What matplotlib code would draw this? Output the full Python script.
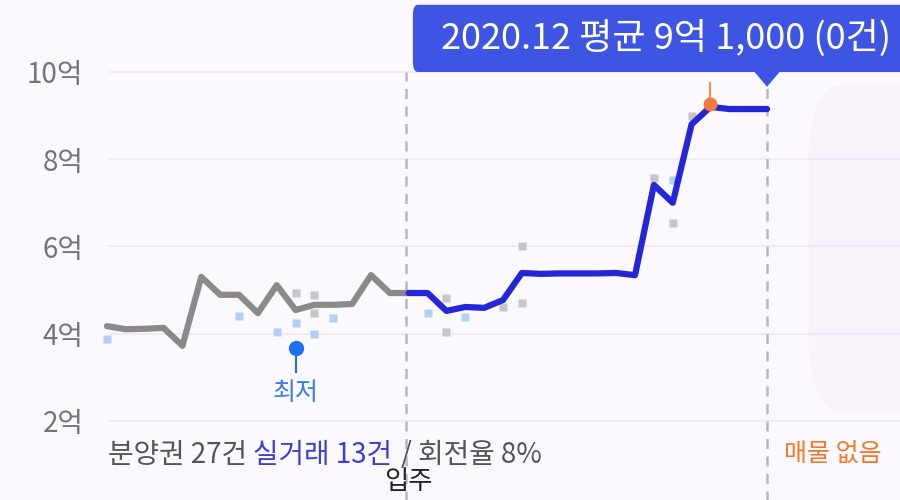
import matplotlib.pyplot as plt
from matplotlib.patches import FancyBboxPatch, Polygon

plt.rcParams['font.family'] = ['Noto Sans CJK KR', 'DejaVu Sans']

# monthly average price (억), month index 0..35, 입주 at month 16
gray_months = list(range(0, 17))
gray_vals = [4.17, 4.10, 4.11, 4.13, 3.72, 5.30, 4.89, 4.89, 4.47, 5.11,
             4.54, 4.66, 4.66, 4.68, 5.34, 4.93, 4.93]
blue_months = list(range(16, 36))
blue_vals = [4.93, 4.93, 4.52, 4.61, 4.59, 4.77, 5.39, 5.37, 5.38, 5.38,
             5.38, 5.39, 5.34, 7.41, 7.00, 8.80, 9.20, 9.15, 9.15, 9.15]

# individual trades
presale_months = [10, 11, 11, 18, 18, 21, 22, 22, 29, 30, 31]
presale_vals = [4.93, 4.89, 4.47, 4.82, 4.04, 4.60, 4.70, 6.01, 7.57, 6.53, 9.00]
real_months = [0, 7, 9, 10, 11, 12, 17, 19, 30]
real_vals = [3.88, 4.40, 4.04, 4.24, 3.99, 4.36, 4.47, 4.38, 7.52]

low_month, low_val = 10, 3.68
movein_month = 16
hl_month = 32

yticks = [2, 4, 6, 8, 10]
ytick_labels = ['2억', '4억', '6억', '8억', '10억']

bg = '#fbf9fd'
fig = plt.figure(figsize=(9, 5), dpi=100, facecolor=bg)
ax = fig.add_axes([100 / 900, 0, 800 / 900, 1])
ax.set_facecolor(bg)
ax.set_xlim(-0.371, 42.05)
ax.set_ylim(0.183, 11.651)
for s in ax.spines.values():
    s.set_visible(False)
ax.set_xticks([])
ax.set_yticks(yticks)
ax.set_yticklabels(ytick_labels)
ax.tick_params(axis='y', length=0, pad=12, labelsize=20, labelcolor='#747474')

# shaded future area
last = blue_months[-1]
ax.add_patch(FancyBboxPatch((last + 2.2, 2.2), 8, 7.5,
                            boxstyle='round,pad=0,rounding_size=1.8',
                            fc='#f8f2fb', ec='none', zorder=0))

for y in yticks:
    ax.axhline(y, xmin=0.0125, xmax=1, color='#eee6f5', lw=1.2, zorder=1)

ax.vlines(movein_month - 0.15, 0, 10, color='#b8b6c4', lw=1.8,
          linestyles=(0, (4, 3)), zorder=1)
ax.vlines(last, 0, 9.66, color='#b8b6c4', lw=1.8,
          linestyles=(0, (4, 3)), zorder=1)

ax.plot(presale_months, presale_vals, 's', ms=5.5, color='#c6c6ca', mec='none', zorder=2)
ax.plot(real_months, real_vals, 's', ms=5.5, color='#b3cff5', mec='none', zorder=2)

ax.plot(gray_months, gray_vals, color='#8a8a8a', lw=4.5,
        solid_joinstyle='round', solid_capstyle='round', zorder=3)
ax.plot(blue_months, blue_vals, color='#2626d9', lw=4.5,
        solid_joinstyle='round', solid_capstyle='round', zorder=4)

# lowest marker
ax.plot([low_month, low_month], [low_val, low_val - 0.55], color='#1f6ff2', lw=1.5, zorder=5)
ax.plot(low_month, low_val, 'o', ms=10, color='#1f6ff2', zorder=6)
ax.text(low_month, low_val - 1.05, '최저', ha='center', va='center',
        fontsize=18, color='#3a7bf0')

# highlighted point
hv = blue_vals[blue_months.index(hl_month)]
ax.plot([hl_month - 0.05, hl_month - 0.05], [hv, hv + 0.55], color='#f5904a', lw=1.5, zorder=5)
ax.plot(hl_month, hv + 0.07, 'o', ms=9, color='#f47b3a', zorder=6)

# tooltip
ax.add_patch(FancyBboxPatch((16.22, 10.0), 27, 1.54,
                            boxstyle='round,pad=0,rounding_size=0.25',
                            fc='#3d55e2', ec='none', zorder=7, clip_on=False))
ax.add_patch(Polygon([(last - 0.7, 10.02), (last + 0.7, 10.02), (last, 9.66)],
                     closed=True, fc='#3d55e2', ec='none', zorder=7))
ax.text(29.64, 10.76, '2020.12 평균 9억 1,000 (0건)', ha='center', va='center',
        fontsize=26, color='white', zorder=8)

# footer texts
ax.text(0.05, 1.22, '분양권 27건', ha='left', va='center', fontsize=20, color='#555555')
ax.text(7.74, 1.22, '실거래 13건', ha='left', va='center', fontsize=20, color='#3b3fd6')
ax.text(15.6, 1.22, '/ 회전율 8%', ha='left', va='center', fontsize=20, color='#555555')
ax.text(movein_month, 0.6, '입주', ha='center', va='center', fontsize=19, color='#222222')
ax.text(last + 0.9, 1.22, '매물 없음', ha='left', va='center', fontsize=18, color='#f07a2a')

fig.savefig('out.png', dpi=100, facecolor=bg)
